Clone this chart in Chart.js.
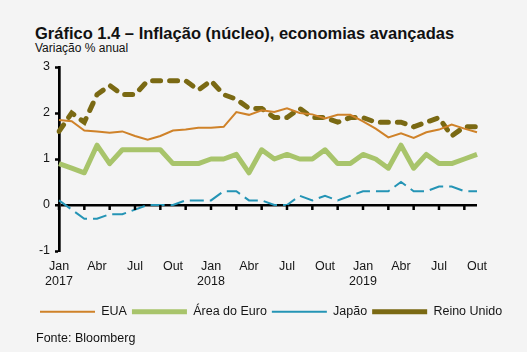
<!DOCTYPE html>
<html>
<head>
<meta charset="utf-8">
<script src="https://cdn.jsdelivr.net/npm/chart.js@4.4.0/dist/chart.umd.min.js"></script>
<style>
  html, body { margin: 0; padding: 0; }
  body {
    width: 527px; height: 352px; overflow: hidden; position: relative;
    background: #f4f4f4;
    font-family: "Liberation Sans", Arial, sans-serif;
    color: #111;
  }
  #titulo { position: absolute; left: 35px; top: 25px; font-size: 16.5px; font-weight: bold; line-height: 16px; white-space: nowrap; }
  #subtitulo { position: absolute; left: 35px; top: 42px; font-size: 12px; line-height: 12px; white-space: nowrap; }
  #fonte { position: absolute; left: 36px; top: 332px; font-size: 12.5px; line-height: 12.5px; white-space: nowrap; }
  #wrap { position: absolute; left: 0; top: 0; width: 527px; height: 352px; }
</style>
</head>
<body>
<div id="titulo">Gráfico 1.4 – Inflação (núcleo), economias avançadas</div>
<div id="subtitulo">Variação % anual</div>
<div id="wrap"><canvas id="grafico" width="527" height="352"></canvas></div>
<div id="fonte">Fonte: Bloomberg</div>

<script>
// meses de jan/2017 a out/2019
const meses = ['Jan', 'Fev', 'Mar', 'Abr', 'Mai', 'Jun', 'Jul', 'Ago', 'Set', 'Out', 'Nov', 'Dez'];
const anos = ['2017', '2018', '2019'];
const mesesVisiveis = ['Jan', 'Abr', 'Jul', 'Out'];

const eua = [1.85, 1.82, 1.62, 1.6, 1.57, 1.6, 1.5, 1.42, 1.5, 1.62, 1.64, 1.68,
             1.68, 1.7, 2.02, 1.96, 2.06, 2.02, 2.1, 2.0, 1.97, 1.88, 1.96, 1.96,
             1.82, 1.66, 1.47, 1.56, 1.46, 1.58, 1.64, 1.75, 1.66, 1.58];
const areaEuro = [0.9, 0.8, 0.7, 1.3, 0.9, 1.2, 1.2, 1.2, 1.2, 0.9, 0.9, 0.9,
                  1.0, 1.0, 1.1, 0.7, 1.2, 1.0, 1.1, 1.0, 1.0, 1.2, 0.9, 0.9,
                  1.1, 1.0, 0.8, 1.3, 0.8, 1.1, 0.9, 0.9, 1.0, 1.1];
const japao = [0.1, -0.1, -0.3, -0.3, -0.2, -0.2, -0.1, 0.0, 0.0, 0.0, 0.1, 0.1,
               0.1, 0.3, 0.3, 0.1, 0.1, 0.0, 0.0, 0.2, 0.1, 0.2, 0.1, 0.2,
               0.3, 0.3, 0.3, 0.5, 0.3, 0.3, 0.4, 0.4, 0.3, 0.3];
const reinoUnido = [1.6, 2.0, 1.8, 2.4, 2.6, 2.4, 2.4, 2.7, 2.7, 2.7, 2.7, 2.5,
                    2.7, 2.4, 2.3, 2.1, 2.1, 1.9, 1.9, 2.1, 1.9, 1.9, 1.8, 1.9,
                    1.9, 1.8, 1.8, 1.8, 1.7, 1.8, 1.9, 1.5, 1.7, 1.7];

const categorias = [];
anos.forEach(function(a){
    meses.forEach(function(m){
        if (categorias.length < eua.length) categorias.push(m + ' ' + a);
    });
});

Chart.defaults.font.family = '"Liberation Sans", Arial, sans-serif';
Chart.defaults.font.size = 12.5;
Chart.defaults.color = '#151515';

// tracinhos do eixo x sobre a linha do zero, a cada 2 meses
const ticksNoZero = {
    id: 'ticksNoZero',
    afterDatasetsDraw: function(chart){
        const x = chart.scales.x, y = chart.scales.y;
        const y0 = y.getPixelForValue(0);
        const ctx = chart.ctx;
        ctx.save();
        ctx.strokeStyle = '#000';
        ctx.lineWidth = 2.5;
        for (let i = 0; i < categorias.length; i += 2){
            const px = x.getPixelForValue(i);
            ctx.beginPath();
            ctx.moveTo(px, y0);
            ctx.lineTo(px, y0 + 5);
            ctx.stroke();
        }
        ctx.restore();
    }
};

new Chart('grafico', {
    type: 'line',
    data: {
        labels: categorias,
        datasets: [
            { label: 'EUA', data: eua, borderColor: '#cf8229', backgroundColor: '#cf8229',
              borderWidth: 2, pointRadius: 0, tension: 0 },
            { label: 'Área do Euro', data: areaEuro, borderColor: '#a8c46b', backgroundColor: '#a8c46b',
              borderWidth: 5, pointRadius: 0, tension: 0, borderJoinStyle: 'round' },
            { label: 'Japão', data: japao, borderColor: '#2494b5', backgroundColor: '#2494b5',
              borderWidth: 2, borderDash: [14, 6], pointRadius: 0, tension: 0 },
            { label: 'Reino Unido', data: reinoUnido, borderColor: '#7a6913', backgroundColor: '#7a6913',
              borderWidth: 5, borderDash: [8, 9], borderCapStyle: 'round', pointRadius: 0, tension: 0 }
        ]
    },
    options: {
        responsive: false,
        animation: false,
        layout: { padding: { top: 67, left: 35, right: 0, bottom: 24 } },
        plugins: {
            legend: {
                position: 'bottom',
                align: 'start',
                labels: {
                    usePointStyle: true,
                    pointStyle: 'line',
                    pointStyleWidth: 55,
                    padding: 5,
                    color: '#151515'
                }
            },
            tooltip: { enabled: false }
        },
        scales: {
            x: {
                offset: false,
                grid: { display: false, drawTicks: false },
                border: { display: false },
                ticks: {
                    autoSkip: false,
                    maxRotation: 0,
                    padding: 8.5,
                    font: { size: 12.5, lineHeight: 1.2 },
                    callback: function(v, i){
                        const m = meses[i % 12];
                        if (mesesVisiveis.indexOf(m) < 0) return '';
                        if (m === 'Jan') return [m, anos[Math.floor(i / 12)]];
                        return m;
                    }
                },
                afterFit: function(s){ s.height = 49.5; }
            },
            y: {
                min: -1, max: 3,
                ticks: { stepSize: 1, padding: 5 },
                grid: {
                    color: function(c){ return c.tick && c.tick.value === 0 ? '#000' : 'rgba(0,0,0,0)'; },
                    lineWidth: function(c){ return c.tick && c.tick.value === 0 ? 2.5 : 1; },
                    tickColor: '#000',
                    tickWidth: 2.5,
                    tickLength: 4
                },
                border: { display: true, color: '#000', width: 2.7 },
                afterFit: function(s){ s.width = 24; }
            },
            // eixo vazio à direita, só para reservar a margem
            margemDireita: {
                type: 'linear',
                position: 'right',
                grid: { display: false, drawTicks: false },
                border: { display: false },
                ticks: { display: false },
                afterFit: function(s){ s.width = 50; }
            }
        }
    },
    plugins: [ticksNoZero]
});
</script>
</body>
</html>
